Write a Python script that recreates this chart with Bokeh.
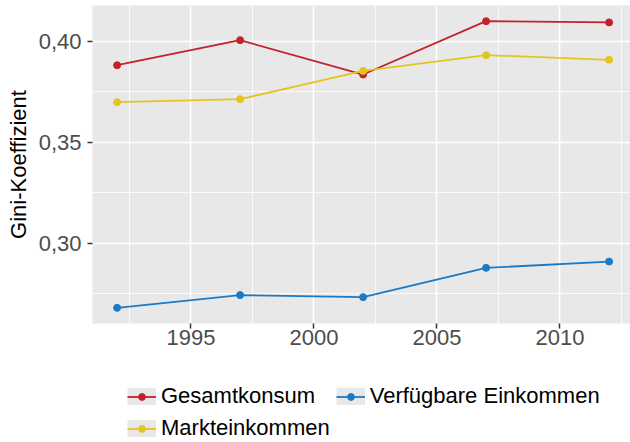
from bokeh.plotting import figure
from bokeh.layouts import column
from bokeh.models import (Range1d, FixedTicker, CustomJSTickFormatter, Legend,
                          LegendItem, ColumnDataSource)
from bokeh.embed import file_html
from bokeh.resources import INLINE

years = [1992, 1997, 2002, 2007, 2012]
gesamtkonsum = [0.3881, 0.4005, 0.3835, 0.4099, 0.4093]
markteinkommen = [0.3698, 0.3713, 0.3853, 0.3931, 0.3908]
verfuegbar = [0.2680, 0.2743, 0.2733, 0.2878, 0.2909]
series_names = ["Gesamtkonsum", "Markteinkommen", "Verfügbare Einkommen"]
series_values = [gesamtkonsum, markteinkommen, verfuegbar]
colors = ["#C4222B", "#E2C620", "#1B7AC5"]
x_ticks = [1995, 2000, 2005, 2010]
y_ticks = [0.30, 0.35, 0.40]

FONT = "Liberation Sans"
PANEL = "#E8E8E8"

p = figure(width=630, height=358, output_backend="svg", toolbar_location=None,
           x_range=Range1d(1991.0, 2012.87), y_range=Range1d(0.26025, 0.41767),
           min_border_left=92, min_border_right=0, min_border_top=5,
           min_border_bottom=35)
p.background_fill_color = PANEL
p.border_fill_color = "white"
p.outline_line_color = None

sources = []
for name, vals, col in zip(series_names, series_values, colors):
    src = ColumnDataSource(dict(x=years, y=vals))
    sources.append(src)
    p.line("x", "y", source=src, line_color=col, line_width=1.8)
    p.scatter("x", "y", source=src, size=7, fill_color=col, line_color=col)

minor_x = [t - 2.5 for t in x_ticks] + [x_ticks[-1] + 2.5]
minor_y = [t - 0.025 for t in y_ticks]
p.xaxis.ticker = FixedTicker(ticks=x_ticks, minor_ticks=minor_x)
p.yaxis.ticker = FixedTicker(ticks=y_ticks, minor_ticks=minor_y)
p.yaxis.formatter = CustomJSTickFormatter(code="return tick.toFixed(2).replace('.', ',');")

for ax in (p.xaxis[0], p.yaxis[0]):
    ax.axis_line_color = None
    ax.major_tick_line_color = "#333333"
    ax.major_tick_line_width = 1.5
    ax.major_tick_out = 5
    ax.major_tick_in = 0
    ax.minor_tick_line_color = None
    ax.major_label_text_font = FONT
    ax.major_label_text_font_size = "22px"
    ax.major_label_text_color = "#4D4D4D"

p.xaxis.major_label_standoff = 1
p.yaxis.major_label_standoff = 6
p.yaxis.axis_label = "Gini-Koeffizient"
p.yaxis.axis_label_text_font = FONT
p.yaxis.axis_label_text_font_size = "22px"
p.yaxis.axis_label_text_font_style = "normal"
p.yaxis.axis_label_text_color = "black"
p.yaxis.axis_label_standoff = 5

for g in (p.xgrid[0], p.ygrid[0]):
    g.grid_line_color = "white"
    g.grid_line_width = 1.6
    g.minor_grid_line_color = "white"
    g.minor_grid_line_width = 0.8

# legend panel (ggplot-style legend below the plot); its renderers use the
# same data but fall outside this panel's ranges, so only the legend shows
pl = figure(width=630, height=84, output_backend="svg", toolbar_location=None,
            x_range=Range1d(0, 1), y_range=Range1d(0, 1),
            x_axis_type=None, y_axis_type=None,
            min_border_left=0, min_border_right=0, min_border_top=0,
            min_border_bottom=0)
pl.outline_line_color = None
pl.background_fill_color = "white"
pl.border_fill_color = "white"

items = []
for name, src, col in zip(series_names, sources, colors):
    key = pl.line("x", "y", source=src, line_color=PANEL, line_width=30,
                  line_cap="butt")
    ln = pl.line("x", "y", source=src, line_color=col, line_width=1.8)
    pt = pl.scatter("x", "y", source=src, size=7, fill_color=col, line_color=col)
    items.append(LegendItem(label=name, renderers=[key, ln, pt]))

legend = Legend(items=items, orientation="vertical", nrows=2,
                location=(35, 1),
                glyph_width=29, glyph_height=17, label_height=23,
                label_standoff=5, spacing=6, padding=0, margin=0,
                label_text_font=FONT, label_text_font_size="22px",
                label_text_color="black", border_line_color=None,
                background_fill_alpha=0)
pl.add_layout(legend, "center")

layout = column(p, pl, spacing=0)
open("out.html", "w").write(file_html(layout, INLINE))
